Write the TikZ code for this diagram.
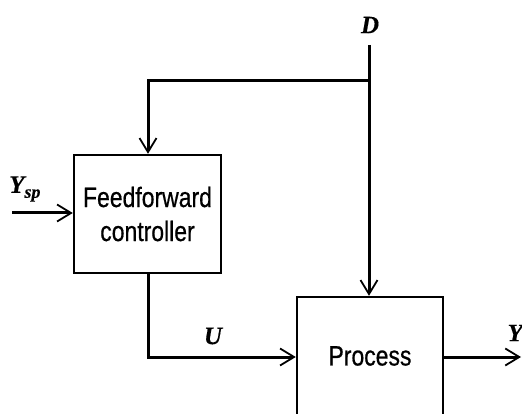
\documentclass[tikz,border=0pt]{standalone}
\usepackage{fontspec}
\usetikzlibrary{arrows.meta}
\newfontfamily\boxfont[FakeStretch=0.82,FakeBold=0.6]{Liberation Sans}
\newfontfamily\lblfont[FakeBold=0.4]{Liberation Serif}
\begin{document}
\begin{tikzpicture}[x=1pt,y=-1pt,
  blk/.style={draw, line width=2.4pt, inner sep=0pt, font=\boxfont\fontsize{28}{34}\selectfont, align=center},
  sig/.style={line width=3pt, -{Straight Barb[length=14pt,width=17pt,line width=1.8pt]}},
  wire/.style={line width=3pt},
  lbl/.style={font=\lblfont\itshape\bfseries\fontsize{25}{27}\selectfont}]
\useasboundingbox (0,0) rectangle (522,414);
\begin{scope}
\clip (0,0) rectangle (522,414);
\node[blk, minimum width=147pt, minimum height=118pt] (ff) at (147.5,214) {Feedforward\\controller};
\node[blk, minimum width=146pt, minimum height=118pt] (proc) at (370,356) {Process};
\end{scope}
\coordinate (dtop) at (369,45);
\coordinate (br) at (369,81);
\coordinate (brl) at (148,81);
\coordinate (ysp) at (12,213);
\coordinate (ucorner) at (148,357);
\coordinate (yout) at (521,357);
\draw[wire] (dtop) -- (br);
\draw[sig] (br) -- (proc.north -| br);
\draw[sig] (br) -- (brl) -- (ff.north -| brl);
\draw[sig] (ysp) -- (ysp -| ff.west);
\draw[sig] (ff.south -| ucorner) -- (ucorner) -- (ucorner -| proc.west);
\draw[sig] (yout -| proc.east) -- (yout);
\node[lbl] (dl) at (370,25) {D};
\node[lbl, anchor=west, inner sep=0pt] (yspl) at (9,189) {Y\raisebox{-5pt}{\fontsize{18}{20}\selectfont sp}};
\node[lbl] (ul) at (213,336) {U};
\node[lbl, anchor=east, inner sep=0pt] (yl) at (523,333) {Y};
\end{tikzpicture}
\end{document}
